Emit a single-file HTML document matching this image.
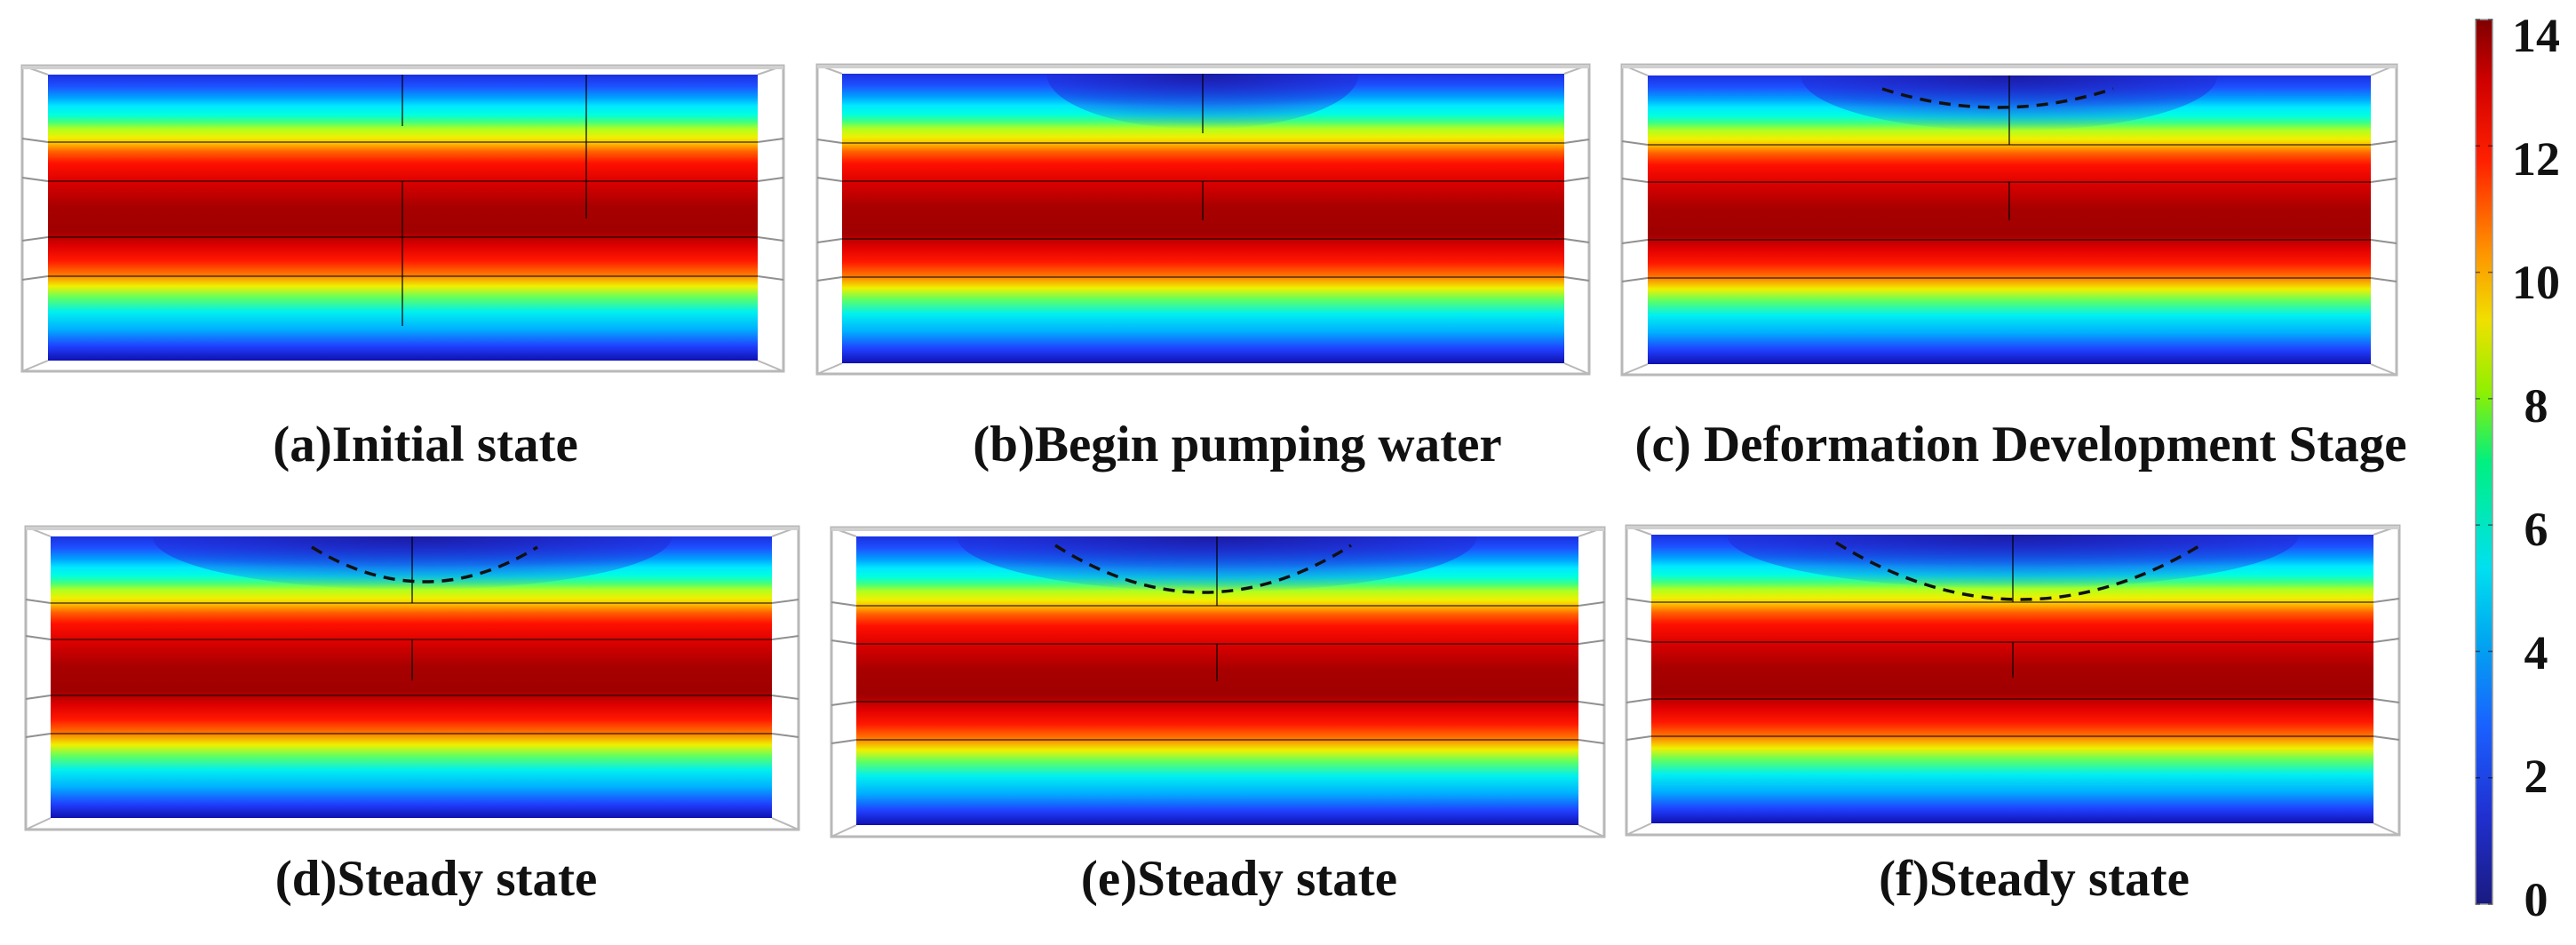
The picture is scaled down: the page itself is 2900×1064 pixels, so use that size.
<!DOCTYPE html>
<html><head><meta charset="utf-8"><style>
html,body{margin:0;padding:0;background:#fff;}
svg{display:block;}
text{font-family:"Liberation Serif",serif;font-weight:bold;fill:#111;}
</style></head><body>
<svg id="fig" width="2900" height="1064" viewBox="0 0 2900 1064" xmlns="http://www.w3.org/2000/svg">
<defs>
<linearGradient id="field" x1="0" y1="0" x2="0" y2="1">
<stop offset="0" stop-color="#1a30e0"/>
<stop offset="0.04" stop-color="#1e50ff"/>
<stop offset="0.08" stop-color="#00a0ff"/>
<stop offset="0.11" stop-color="#00e8ff"/>
<stop offset="0.14" stop-color="#00ffe0"/>
<stop offset="0.165" stop-color="#40ff80"/>
<stop offset="0.19" stop-color="#b0ff20"/>
<stop offset="0.22" stop-color="#f0f000"/>
<stop offset="0.24" stop-color="#ffc000"/>
<stop offset="0.27" stop-color="#ff6000"/>
<stop offset="0.31" stop-color="#ff1000"/>
<stop offset="0.38" stop-color="#d80000"/>
<stop offset="0.46" stop-color="#a80000"/>
<stop offset="0.55" stop-color="#a00000"/>
<stop offset="0.60" stop-color="#e00000"/>
<stop offset="0.65" stop-color="#ff1800"/>
<stop offset="0.70" stop-color="#ff7a00"/>
<stop offset="0.74" stop-color="#f0f000"/>
<stop offset="0.78" stop-color="#60ff60"/>
<stop offset="0.83" stop-color="#00f0f0"/>
<stop offset="0.89" stop-color="#00b0ff"/>
<stop offset="0.95" stop-color="#2040ff"/>
<stop offset="1" stop-color="#1010b0"/>
</linearGradient>
<radialGradient id="well" cx="0.5" cy="0" r="1" gradientUnits="objectBoundingBox">
<stop offset="0" stop-color="#1a1aa0" stop-opacity="0.95"/>
<stop offset="0.55" stop-color="#2030e0" stop-opacity="0.6"/>
<stop offset="1" stop-color="#2040ff" stop-opacity="0"/>
</radialGradient>
<linearGradient id="jet" x1="0" y1="1" x2="0" y2="0">
<stop offset="0" stop-color="#1a1a80"/>
<stop offset="0.1" stop-color="#2030d0"/>
<stop offset="0.2" stop-color="#1a60ff"/>
<stop offset="0.3" stop-color="#00a8f0"/>
<stop offset="0.38" stop-color="#00e0f0"/>
<stop offset="0.5" stop-color="#00f080"/>
<stop offset="0.58" stop-color="#90f000"/>
<stop offset="0.66" stop-color="#f0e000"/>
<stop offset="0.74" stop-color="#ff9000"/>
<stop offset="0.84" stop-color="#ff2000"/>
<stop offset="0.93" stop-color="#d00000"/>
<stop offset="1" stop-color="#800000"/>
</linearGradient>
</defs>
</svg>
<script>
// Colorbar data
const tickValues = [0, 2, 4, 6, 8, 10, 12, 14];
const tickLabels = ["0", "2", "4", "6", "8", "10", "12", "14"];
const cbMin = 0;
const cbMax = 14;
// Panel labels
const panelLabels = ["(a)Initial state", "(b)Begin pumping water", "(c) Deformation Development Stage", "(d)Steady state", "(e)Steady state", "(f)Steady state"];

const NS = "http://www.w3.org/2000/svg";
const svg = document.getElementById('fig');
function mk(tag, attrs, parent) {
  const e = document.createElementNS(NS, tag);
  for (const k in attrs) e.setAttribute(k, attrs[k]);
  (parent || svg).appendChild(e);
  return e;
}

const panels = [
  {o:[25,74,882,418], i:[54,84,853,406], L:[160,204,267,311], v:[[453,84,142],[453,204,367],[660,84,246]], arc:null, lx:479, ly:519},
  {o:[920,73,1789,421], i:[948,83,1761,409], L:[161,204,269,312], v:[[1354,83,150],[1354,204,248]], arc:null, lx:1393, ly:519, well:0.6},
  {o:[1826,73,2698,422], i:[1855,85,2669,410], L:[163,205,270,313], v:[[2262,85,163],[2262,205,248]], arc:[2119,2379,100,121], lx:2275, ly:519, well:0.8},
  {o:[29,593,899,934], i:[57,604,869,921], L:[679,720,783,826], v:[[464,604,679],[464,720,766]], arc:[351,605,616,655], lx:491, ly:1008, well:1},
  {o:[936,594,1806,942], i:[964,604,1777,929], L:[682,725,790,833], v:[[1370,604,682],[1370,725,767]], arc:[1188,1521,614,667], lx:1395, ly:1008, well:1},
  {o:[1831,592,2701,940], i:[1859,602,2672,927], L:[678,723,787,829], v:[[2266,602,678],[2266,723,763]], arc:[2067,2482,611,675], lx:2290, ly:1008, well:1.1}
];
const ids = ['a','b','c','d','e','f'];

panels.forEach((p, k) => {
  const g = mk('g', {});
  
  
  const [ox1, oy1, ox2, oy2] = p.o, [ix1, iy1, ix2, iy2] = p.i;
  const field = mk('rect', {x:ix1, y:iy1, width:ix2-ix1, height:iy2-iy1, fill:'url(#field)'}, g);
  
  
  if (p.well) {
    const cx = p.v[0][0], w = (ix2-ix1)*0.36*p.well, h = (p.L[0]-iy1)*0.8;
    const wl = mk('path', {d:`M${cx-w},${iy1} A${w},${h} 0 0 0 ${cx+w},${iy1} Z`, fill:'url(#well)'}, g);
    
    
  }
  const fr = mk('rect', {x:ox1, y:oy1, width:ox2-ox1, height:oy2-oy1, fill:'none', stroke:'#b8b8b8', 'stroke-width':3}, g);
  
  
  mk('line', {x1:ox1, y1:oy1, x2:ix1, y2:iy1, stroke:'#b8b8b8', 'stroke-width':2}, g);
  mk('line', {x1:ox2, y1:oy1, x2:ix2, y2:iy1, stroke:'#b8b8b8', 'stroke-width':2}, g);
  mk('line', {x1:ox1, y1:oy2, x2:ix1, y2:iy2, stroke:'#b8b8b8', 'stroke-width':2}, g);
  mk('line', {x1:ox2, y1:oy2, x2:ix2, y2:iy2, stroke:'#b8b8b8', 'stroke-width':2}, g);
  mk('line', {x1:ox1, y1:oy1+2, x2:ox2, y2:oy1+2, stroke:'#d0d0d0', 'stroke-width':4}, g);
  p.L.forEach((y, j) => {
    const ln = mk('line', {x1:ix1, y1:y, x2:ix2, y2:y, stroke:'rgba(0,0,0,0.5)', 'stroke-width':2}, g);
    
    
    const s = j < 2 ? 4 : -4;
    mk('line', {x1:ox1, y1:y-s, x2:ix1, y2:y, stroke:'#909090', 'stroke-width':2}, g);
    mk('line', {x1:ix2, y1:y, x2:ox2, y2:y-s, stroke:'#909090', 'stroke-width':2}, g);
  });
  p.v.forEach(s => {
    mk('line', {x1:s[0], y1:s[1], x2:s[0], y2:s[2], stroke:'rgba(0,0,0,0.6)', 'stroke-width':2}, g);
  });
  if (p.arc) {
    const [x1, x2, yt, yb] = p.arc, mx = (x1+x2)/2;
    const a = mk('path', {d:`M${x1},${yt} Q${mx},${2*yb-yt} ${x2},${yt}`, fill:'none', stroke:'#111', 'stroke-width':3.5, 'stroke-dasharray':'13 9'}, g);
    
    
  }
  const t = mk('text', {x:p.lx, y:p.ly, 'text-anchor':'middle', 'font-size':57}, g);
  
  
  t.textContent = panelLabels[k];
});

// colorbar
const cbX = 2787, cbW = 19, cbTop = 22, cbBot = 1018;
function cbY(v) { return cbBot - (v - cbMin) / (cbMax - cbMin) * (cbBot - cbTop); }
const cb = mk('rect', {x:cbX, y:cbTop, width:cbW, height:cbBot-cbTop, fill:'url(#jet)', stroke:'#999', 'stroke-width':1.5});


tickValues.forEach((v, j) => {
  const y = cbY(v);
  const tk = mk('line', {x1:cbX, y1:y, x2:cbX+5, y2:y, stroke:'rgba(0,0,0,0.5)', 'stroke-width':1.5});
  
  
  mk('line', {x1:cbX+cbW-5, y1:y, x2:cbX+cbW, y2:y, stroke:'rgba(0,0,0,0.5)', 'stroke-width':1.5});
  const ly = 1013 - (v - cbMin) / (cbMax - cbMin) * (1013 - 40);
  const t = mk('text', {x:2855, y:ly + 18, 'text-anchor':'middle', 'font-size':54});
  
  
  t.textContent = tickLabels[j];
});
</script>
</body></html>
